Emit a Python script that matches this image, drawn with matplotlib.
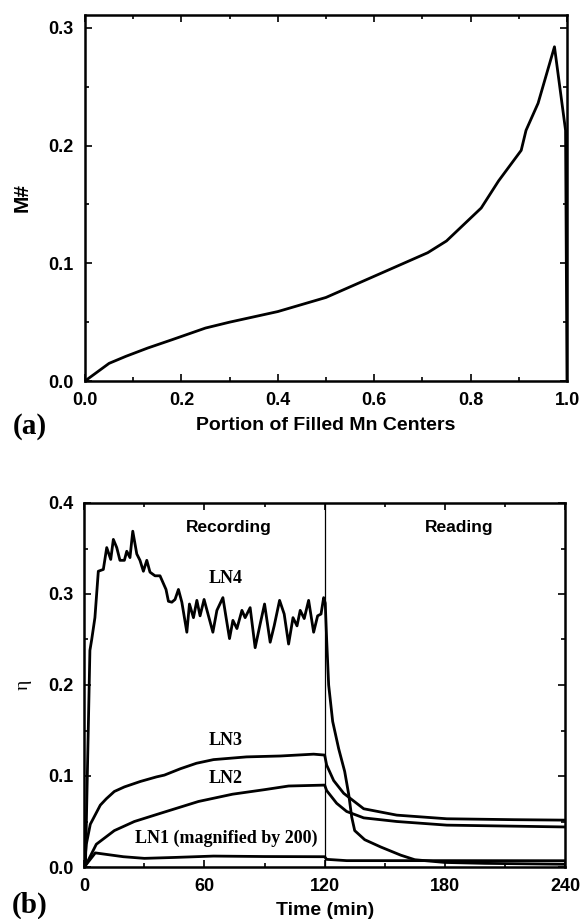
import matplotlib
matplotlib.use("Agg")
import matplotlib.pyplot as plt
from matplotlib.ticker import MultipleLocator

# ---- data (a): M# vs portion of filled Mn centers
frac_filled = [0, 0.05, 0.085, 0.13, 0.18, 0.25, 0.3, 0.4, 0.5, 0.6, 0.711,
               0.75, 0.822, 0.858, 0.905, 0.915, 0.94, 0.974, 0.997, 1.0]
m_number = [0, 0.015, 0.021, 0.028, 0.035, 0.045, 0.05, 0.059, 0.071, 0.089,
            0.109, 0.119, 0.147, 0.17, 0.196, 0.213, 0.236, 0.284, 0.213, 0.0]

# ---- data (b): diffraction efficiency vs time
t_ln4 = [0, 0.6, 2.8, 3.7, 5.3, 7, 9.5, 11.2, 13.2, 14.5, 16.2, 17.8, 20, 21.2,
         22.8, 24.2, 26.2, 27.8, 29.5, 31.2, 32.8, 35.3, 37.8, 39.2, 40.8, 42,
         43.7, 45.3, 47, 48.7, 51.2, 52.5, 54.5, 56.2, 57.8, 59.8, 62, 64.2,
         66.2, 69.2, 70.8, 72.5, 74.2, 76.2, 78.7, 80.3, 82.8, 85.3, 87.8, 90,
         92.8, 94.8, 97.5, 99.8, 102, 104.2, 106.2, 107.8, 109.8, 112, 114.5,
         116.5, 118.2, 119.5, 120.3, 121, 122, 124, 127, 130, 132, 133.5, 135,
         140, 148, 158, 165, 180, 200, 240]
eta_ln4 = [0, 0.004, 0.238, 0.25, 0.274, 0.325, 0.327, 0.351, 0.338, 0.36,
           0.351, 0.337, 0.337, 0.347, 0.34, 0.369, 0.344, 0.337, 0.325, 0.337,
           0.324, 0.32, 0.32, 0.313, 0.305, 0.292, 0.291, 0.294, 0.305, 0.291,
           0.258, 0.289, 0.274, 0.293, 0.276, 0.294, 0.276, 0.258, 0.282,
           0.296, 0.274, 0.251, 0.271, 0.262, 0.282, 0.274, 0.285, 0.241,
           0.267, 0.289, 0.247, 0.265, 0.293, 0.278, 0.245, 0.274, 0.265,
           0.282, 0.273, 0.293, 0.258, 0.276, 0.278, 0.296, 0.29, 0.25, 0.2,
           0.16, 0.13, 0.105, 0.08, 0.055, 0.04, 0.03, 0.022, 0.013, 0.008,
           0.005, 0.004, 0.003]

t_ln3 = [0, 1, 3, 8, 11, 15, 20, 28, 36, 40, 48, 56, 64.5, 81, 98, 114.5,
         120, 121, 124.5, 129.5, 139.5, 156, 181, 214.5, 240]
eta_ln3 = [0, 0.025, 0.047, 0.068, 0.075, 0.083, 0.088, 0.094, 0.099, 0.101,
           0.108, 0.114, 0.118, 0.121, 0.122, 0.124, 0.123, 0.112, 0.095,
           0.081, 0.064, 0.057, 0.053, 0.052, 0.0515]

t_ln2 = [0, 1.2, 6, 15, 25, 38, 57, 74, 90, 102, 120, 121, 126, 131, 139.5,
         156, 181, 240]
eta_ln2 = [0, 0.004, 0.025, 0.04, 0.05, 0.059, 0.072, 0.08, 0.085, 0.089,
           0.09, 0.084, 0.07, 0.061, 0.054, 0.05, 0.046, 0.044]

t_ln1 = [0, 5.5, 19.5, 30, 45, 64.5, 90, 120, 121, 131, 180, 240]
eta_ln1 = [0, 0.0155, 0.0113, 0.0095, 0.0105, 0.012, 0.0115, 0.0113, 0.0084,
           0.007, 0.007, 0.0069]

W, H = 583, 919
fig = plt.figure(figsize=(W / 100, H / 100), dpi=100)

sans = ['Liberation Sans', 'DejaVu Sans']
serif = ['Liberation Serif', 'DejaVu Serif']


def style_axes(ax):
    for sp in ax.spines.values():
        sp.set_linewidth(1.8)
    ax.tick_params(which='both', direction='in', top=True, right=True,
                   width=1.2)
    ax.tick_params(which='major', length=5, pad=8, labelsize=13)
    ax.tick_params(which='minor', length=3)
    for lab in ax.get_xticklabels() + ax.get_yticklabels():
        lab.set_fontfamily(sans)
        lab.set_fontweight('bold')


# ---------- panel (a)
ax1 = fig.add_axes([85 / W, 1 - 381 / H, 482 / W, 366 / H])
ax1.plot(frac_filled, m_number, color='black', lw=2.0)
ax1.set_xlim(0, 1.0)
ax1.set_ylim(0, 0.311)
ax1.xaxis.set_major_locator(MultipleLocator(0.2))
ax1.xaxis.set_minor_locator(MultipleLocator(0.1))
ax1.yaxis.set_major_locator(MultipleLocator(0.1))
ax1.yaxis.set_minor_locator(MultipleLocator(0.05))
ax1.xaxis.set_major_formatter(lambda v, p: f'{v:.1f}')
ax1.yaxis.set_major_formatter(lambda v, p: f'{v:.1f}')
style_axes(ax1)
ax1.set_xlabel('Portion of Filled Mn Centers', fontsize=14, fontweight='bold',
               family=sans, labelpad=6)
ax1.set_ylabel('M#', fontsize=15, fontweight='bold', family=sans, labelpad=12)
fig.text(30 / W, 1 - 427 / H, '(a)', fontsize=21, fontweight='bold',
         family=serif, ha='center', va='center')

# ---------- panel (b)
ax2 = fig.add_axes([84.3 / W, 1 - 867 / H, 480.7 / W, 364 / H])
for t, e in [(t_ln4, eta_ln4), (t_ln3, eta_ln3), (t_ln2, eta_ln2),
             (t_ln1, eta_ln1)]:
    ax2.plot(t, e, color='black', lw=2.0)
ax2.axvline(120, color='black', lw=0.9)
ax2.set_xlim(0, 240)
ax2.set_ylim(0, 0.4)
ax2.xaxis.set_major_locator(MultipleLocator(60))
ax2.xaxis.set_minor_locator(MultipleLocator(30))
ax2.yaxis.set_major_locator(MultipleLocator(0.1))
ax2.yaxis.set_minor_locator(MultipleLocator(0.05))
ax2.yaxis.set_major_formatter(lambda v, p: f'{v:.1f}')
style_axes(ax2)
ax2.set_xlabel('Time (min)', fontsize=14, fontweight='bold', family=sans,
               labelpad=5)
ax2.set_ylabel('η', fontsize=14, family=serif, labelpad=12)

ax2.text(72, 0.373, 'Recording', fontsize=12.5, fontweight='bold',
         family=sans, ha='center', va='center')
ax2.text(187, 0.373, 'Reading', fontsize=12.5, fontweight='bold',
         family=sans, ha='center', va='center')
ax2.text(70.5, 0.317, 'LN4', fontsize=13, fontweight='bold', family=serif,
         ha='center', va='center')
ax2.text(70.7, 0.139, 'LN3', fontsize=13, fontweight='bold', family=serif,
         ha='center', va='center')
ax2.text(70.7, 0.097, 'LN2', fontsize=13, fontweight='bold', family=serif,
         ha='center', va='center')
ax2.text(71, 0.032, 'LN1 (magnified by 200)', fontsize=13, fontweight='bold',
         family=serif, ha='center', va='center')
fig.text(30 / W, 1 - 905 / H, '(b)', fontsize=21, fontweight='bold',
         family=serif, ha='center', va='center')

fig.savefig('out.png', dpi=100)
